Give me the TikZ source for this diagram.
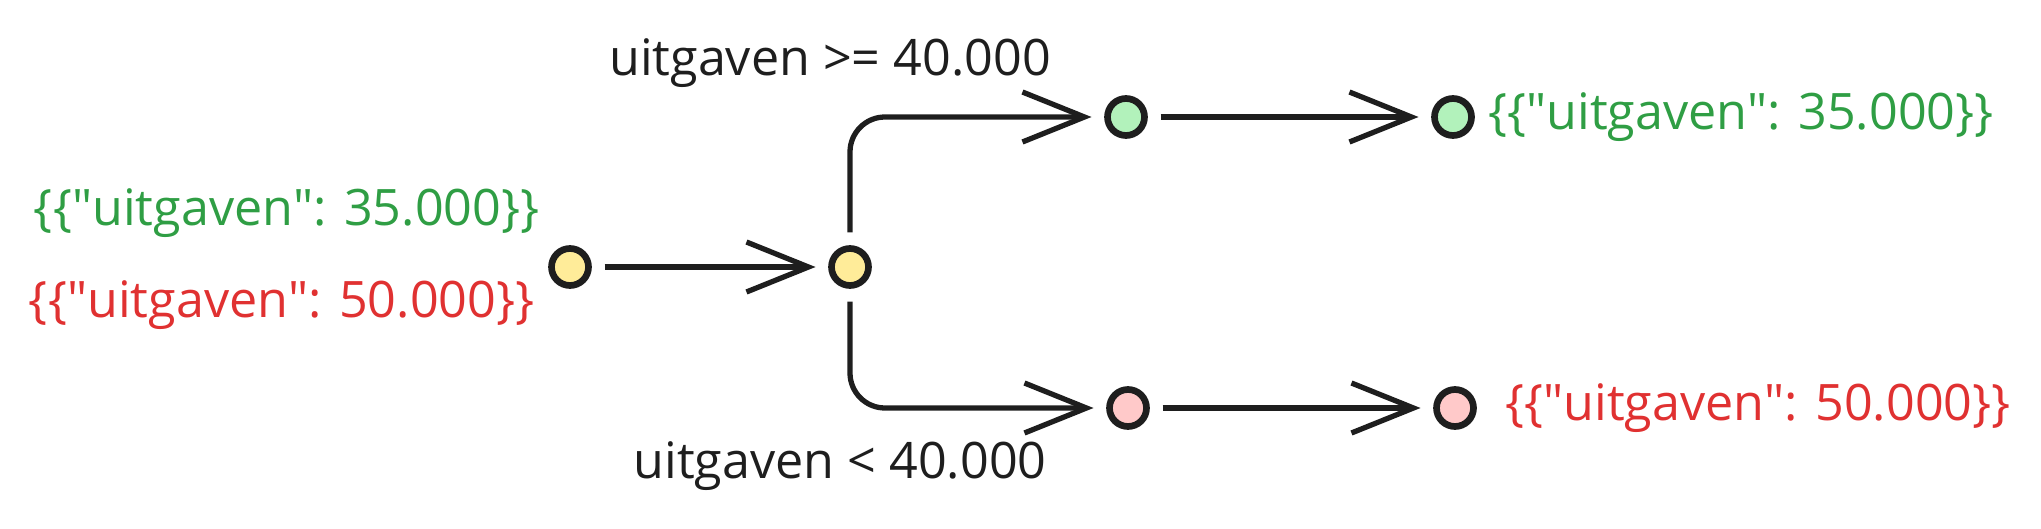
\documentclass[tikz,border=0pt]{standalone}
\usepackage{fontspec}
\setmainfont{Open Sans}
\usepackage{tikz}
\usetikzlibrary{arrows.meta,positioning}

\definecolor{ink}{HTML}{1E1E1E}
\definecolor{okgreen}{HTML}{2F9E44}
\definecolor{badred}{HTML}{E03131}
\definecolor{fillyellow}{HTML}{FFEC99}
\definecolor{fillgreen}{HTML}{B2F2BB}
\definecolor{fillred}{HTML}{FFC9C9}

\newcommand{\qt}{\textquotedbl}

\tikzset{
  dot/.style={circle, draw=ink, line width=1.9pt, minimum size=0.37cm, inner sep=0pt, outer sep=0.16cm},
  yellowdot/.style={dot, fill=fillyellow},
  greendot/.style={dot, fill=fillgreen},
  reddot/.style={dot, fill=fillred},
  flow/.style={draw=ink, line width=1.5pt, rounded corners=0.35cm,
    -{Straight Barb[length=0.62cm, width=0.5cm, line width=1.5pt]}},
  txt/.style={inner sep=0pt, font=\fontsize{14.3pt}{17pt}\selectfont},
}

\begin{document}
\begin{tikzpicture}
\useasboundingbox (0,0) rectangle (20.41,5.28);

% Punten
\node[yellowdot] (start) at (5.70, 2.61) {};
\node[yellowdot] (split) at (8.50, 2.61) {};
\node[greendot] (hoog1) at (11.26, 4.11) {};
\node[greendot] (hoog2) at (14.53, 4.11) {};
\node[reddot] (laag1) at (11.28, 1.20) {};
\node[reddot] (laag2) at (14.55, 1.20) {};

% Invoer
\node[txt, okgreen, anchor=east] (in35) at (5.40, 3.15) {\{\{\qt uitgaven\qt: 35.000\}\}};
\node[txt, badred, anchor=east] (in50) at (5.35, 2.23) {\{\{\qt uitgaven\qt: 50.000\}\}};

% Voorwaarden
\node[txt, ink] (cond1) at (8.30, 4.65) {uitgaven >= 40.000};
\node[txt, ink] (cond2) at (8.40, 0.62) {uitgaven < 40.000};

% Uitvoer
\node[txt, okgreen, right=0pt of hoog2] (out35) {\{\{\qt uitgaven\qt: 35.000\}\}};
\node[txt, badred, right=0.15cm of laag2] (out50) {\{\{\qt uitgaven\qt: 50.000\}\}};

% Pijlen
\draw[flow] (start) -- (split);
\draw[flow] (split) |- (hoog1);
\draw[flow] (split) |- (laag1);
\draw[flow] (hoog1) -- (hoog2);
\draw[flow] (laag1) -- (laag2);
\end{tikzpicture}
\end{document}
